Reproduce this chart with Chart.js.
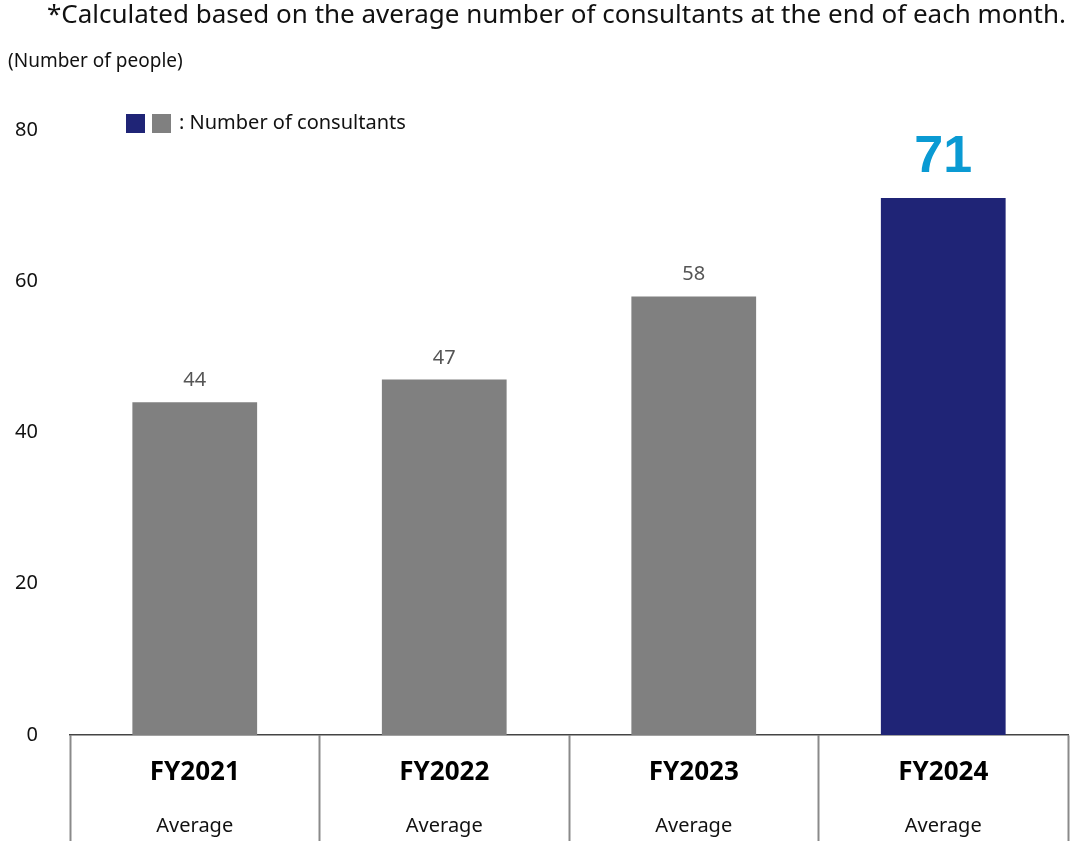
<!DOCTYPE html>
<html>
<head>
<meta charset="utf-8">
<script src="https://cdn.jsdelivr.net/npm/chart.js@4"></script>
<style>
  html, body { margin: 0; padding: 0; background: #ffffff; }
  #wrap { width: 1071px; height: 851px; position: relative; }
</style>
</head>
<body>
<div id="wrap"><canvas id="chart" width="1071" height="851"></canvas></div>
<script>
// Consultant headcount, fiscal-year averages
const fiscalYears = ['FY2021', 'FY2022', 'FY2023', 'FY2024'];
const subLabels = ['Average', 'Average', 'Average', 'Average'];
const consultants = [44, 47, 58, 71];
const barColors = ['#808080', '#808080', '#808080', '#1f2476'];
const yTicks = [0, 20, 40, 60, 80];

const noteText = '*Calculated based on the average number of consultants at the end of each month.';
const unitText = '(Number of people)';
const legendText = ': Number of consultants';

const FONT = '"Noto Sans", "Open Sans", sans-serif';

const decorPlugin = {
  id: 'decor',
  afterDraw(chart) {
    const ctx = chart.ctx;
    const x = chart.scales.x;
    ctx.save();

    // note and unit
    ctx.fillStyle = '#111';
    ctx.textBaseline = 'middle';
    ctx.font = '26px ' + FONT;
    ctx.textAlign = 'right';
    ctx.fillText(noteText, 1066, 16);
    ctx.font = '19px ' + FONT;
    ctx.textAlign = 'left';
    ctx.fillText(unitText, 8, 62);

    // legend
    ctx.fillStyle = '#1f2476';
    ctx.fillRect(126, 114, 19, 19);
    ctx.fillStyle = '#808080';
    ctx.fillRect(152, 114, 19, 19);
    ctx.fillStyle = '#111';
    ctx.font = '20px ' + FONT;
    ctx.fillText(legendText, 179, 123);

    // value labels
    const meta = chart.getDatasetMeta(0);
    meta.data.forEach((bar, i) => {
      const last = i === consultants.length - 1;
      ctx.textAlign = 'center';
      ctx.textBaseline = 'alphabetic';
      if (last) {
        ctx.fillStyle = '#0a9ad3';
        ctx.font = 'bold 52px "Liberation Sans", Arial, sans-serif';
        ctx.fillText(String(consultants[i]), bar.x, bar.y - 26);
      } else {
        ctx.fillStyle = '#555';
        ctx.font = '20px ' + FONT;
        ctx.fillText(String(consultants[i]), bar.x, bar.y - 16);
      }
    });

    // category labels below the axis
    fiscalYears.forEach((fy, i) => {
      const cx = x.getPixelForValue(i);
      ctx.fillStyle = '#000';
      ctx.textAlign = 'center';
      ctx.textBaseline = 'middle';
      ctx.font = 'bold 26px ' + FONT;
      ctx.fillText(fy, cx, 773);
      ctx.font = '20px ' + FONT;
      ctx.fillStyle = '#111';
      ctx.fillText(subLabels[i], cx, 826);
    });
    ctx.restore();
  }
};

new Chart(document.getElementById('chart'), {
  type: 'bar',
  data: {
    labels: fiscalYears,
    datasets: [{
      data: consultants,
      backgroundColor: barColors,
      borderWidth: 0,
      categoryPercentage: 1,
      barPercentage: 0.5
    }]
  },
  options: {
    responsive: false,
    animation: false,
    layout: { padding: { top: 130, right: 3, left: 0, bottom: 0 } },
    plugins: {
      legend: { display: false },
      tooltip: { enabled: false }
    },
    scales: {
      x: {
        afterFit(scale) { scale.height = 116; },
        grid: {
          offset: true,
          drawOnChartArea: false,
          drawTicks: true,
          tickLength: 106,
          tickWidth: 2,
          tickColor: '#8a8a8a',
          color: '#8a8a8a'
        },
        border: { display: true, color: '#444', width: 1.5 },
        ticks: { display: false }
      },
      y: {
        min: 0,
        max: 80,
        afterFit(scale) { scale.width = 70; },
        afterBuildTicks(scale) { scale.ticks = yTicks.map(v => ({ value: v })); },
        grid: { display: false, drawTicks: false },
        border: { display: false },
        ticks: {
          padding: 32,
          color: '#111',
          font: { family: FONT, size: 20 }
        }
      }
    }
  },
  plugins: [decorPlugin]
});
</script>
</body>
</html>
